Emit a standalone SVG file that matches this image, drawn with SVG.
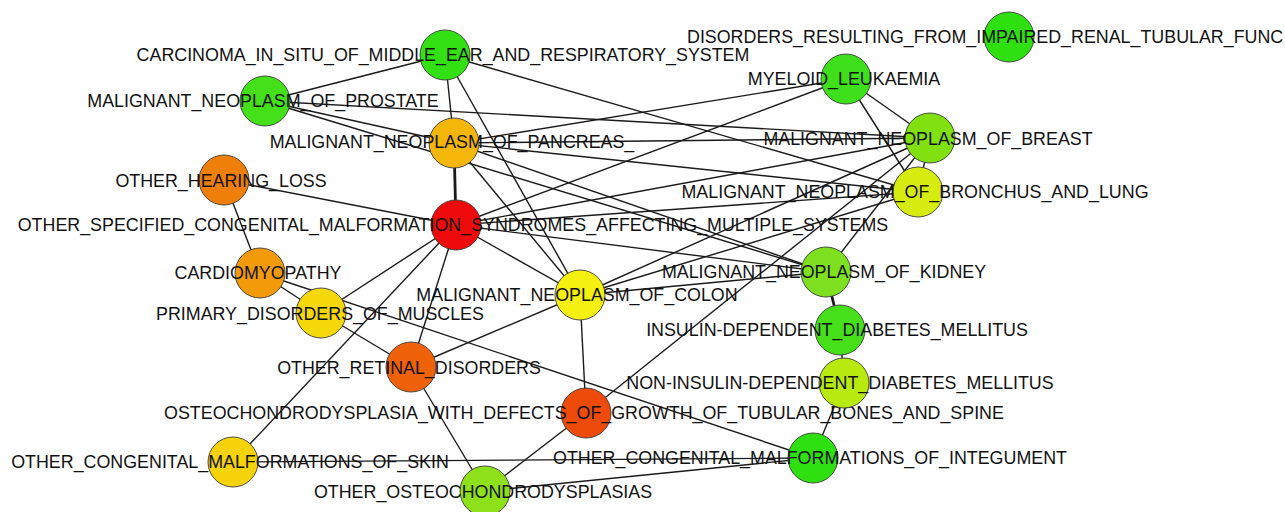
<svg xmlns="http://www.w3.org/2000/svg" width="1285" height="512" viewBox="0 0 1285 512">
<style>
.e{stroke:#1a1a1a;stroke-width:1.4;fill:none}
.e2{stroke:#1a1a1a;stroke-width:2.8;fill:none}
.n{stroke:#3a3a3a;stroke-width:0.9}
.t{font-family:"Liberation Sans",Arial,sans-serif;font-size:17.85px;fill:#111;text-anchor:middle}
</style>
<rect width="1285" height="512" fill="#ffffff"/>
<g id="edges">
<line class="e" x1="445" y1="55" x2="265" y2="101"/>
<line class="e" x1="445" y1="55" x2="454" y2="143"/>
<line class="e" x1="445" y1="55" x2="580" y2="295"/>
<line class="e" x1="445" y1="55" x2="918" y2="192"/>
<line class="e" x1="265" y1="101" x2="930" y2="138"/>
<line class="e" x1="265" y1="101" x2="454" y2="143"/>
<line class="e" x1="265" y1="101" x2="826" y2="272"/>
<line class="e2" x1="454" y1="143" x2="456" y2="225"/>
<line class="e" x1="454" y1="143" x2="846" y2="79"/>
<line class="e" x1="454" y1="143" x2="930" y2="138"/>
<line class="e" x1="454" y1="143" x2="580" y2="295"/>
<line class="e" x1="454" y1="143" x2="826" y2="272"/>
<line class="e" x1="454" y1="143" x2="918" y2="192"/>
<line class="e" x1="456" y1="225" x2="224" y2="180"/>
<line class="e" x1="456" y1="225" x2="580" y2="295"/>
<line class="e" x1="456" y1="225" x2="846" y2="79"/>
<line class="e" x1="456" y1="225" x2="930" y2="138"/>
<line class="e" x1="456" y1="225" x2="826" y2="272"/>
<line class="e" x1="456" y1="225" x2="918" y2="192"/>
<line class="e" x1="456" y1="225" x2="321" y2="313"/>
<line class="e" x1="456" y1="225" x2="233" y2="462"/>
<line class="e" x1="456" y1="225" x2="411" y2="367"/>
<line class="e" x1="224" y1="180" x2="260" y2="273"/>
<line class="e" x1="260" y1="273" x2="321" y2="313"/>
<line class="e" x1="260" y1="273" x2="813" y2="458"/>
<line class="e" x1="321" y1="313" x2="411" y2="367"/>
<line class="e" x1="411" y1="367" x2="580" y2="295"/>
<line class="e" x1="411" y1="367" x2="485" y2="491"/>
<line class="e" x1="580" y1="295" x2="586" y2="413"/>
<line class="e" x1="580" y1="295" x2="930" y2="138"/>
<line class="e" x1="580" y1="295" x2="826" y2="272"/>
<line class="e" x1="580" y1="295" x2="918" y2="192"/>
<line class="e" x1="586" y1="413" x2="930" y2="138"/>
<line class="e" x1="586" y1="413" x2="485" y2="491"/>
<line class="e" x1="485" y1="491" x2="813" y2="458"/>
<line class="e" x1="233" y1="462" x2="813" y2="458"/>
<line class="e" x1="813" y1="458" x2="844" y2="383"/>
<line class="e" x1="844" y1="383" x2="840" y2="330"/>
<line class="e2" x1="840" y1="330" x2="826" y2="272"/>
<line class="e" x1="826" y1="272" x2="930" y2="138"/>
<line class="e" x1="846" y1="79" x2="930" y2="138"/>
<line class="e" x1="846" y1="79" x2="918" y2="192"/>
<line class="e" x1="930" y1="138" x2="918" y2="192"/>
</g>
<g id="n_carcinoma"><circle class="n" cx="445" cy="55" r="25" fill="#33e014"/><text class="t" x="443" y="61">CARCINOMA_IN_SITU_OF_MIDDLE_EAR_AND_RESPIRATORY_SYSTEM</text></g>
<g id="n_prostate"><circle class="n" cx="265" cy="101" r="25" fill="#44e01a"/><text class="t" x="263" y="107">MALIGNANT_NEOPLASM_OF_PROSTATE</text></g>
<g id="n_pancreas"><circle class="n" cx="454" cy="143" r="25" fill="#f5b60a"/><text class="t" x="452" y="148">MALIGNANT_NEOPLASM_OF_PANCREAS_</text></g>
<g id="n_hearing"><circle class="n" cx="224" cy="180" r="25" fill="#f07f0a"/><text class="t" x="221" y="187">OTHER_HEARING_LOSS</text></g>
<g id="n_syndromes"><circle class="n" cx="456" cy="225" r="25" fill="#ee0a0a"/><text class="t" x="453" y="231">OTHER_SPECIFIED_CONGENITAL_MALFORMATION_SYNDROMES_AFFECTING_MULTIPLE_SYSTEMS</text></g>
<g id="n_cardiomyopathy"><circle class="n" cx="260" cy="273" r="25" fill="#f39a0a"/><text class="t" x="258" y="279">CARDIOMYOPATHY</text></g>
<g id="n_muscles"><circle class="n" cx="321" cy="313" r="25" fill="#f5d80a"/><text class="t" x="320" y="320">PRIMARY_DISORDERS_OF_MUSCLES</text></g>
<g id="n_retinal"><circle class="n" cx="411" cy="367" r="25" fill="#ef620a"/><text class="t" x="409" y="374">OTHER_RETINAL_DISORDERS</text></g>
<g id="n_osteo_defects"><circle class="n" cx="586" cy="413" r="25" fill="#ee4a0a"/><text class="t" x="584" y="419">OSTEOCHONDRODYSPLASIA_WITH_DEFECTS_OF_GROWTH_OF_TUBULAR_BONES_AND_SPINE</text></g>
<g id="n_skin"><circle class="n" cx="233" cy="462" r="25" fill="#f5d20a"/><text class="t" x="230" y="468">OTHER_CONGENITAL_MALFORMATIONS_OF_SKIN</text></g>
<g id="n_other_osteo"><circle class="n" cx="485" cy="491" r="25" fill="#8ee01a"/><text class="t" x="483" y="498">OTHER_OSTEOCHONDRODYSPLASIAS</text></g>
<g id="n_colon"><circle class="n" cx="580" cy="295" r="25" fill="#f6f010"/><text class="t" x="577" y="301">MALIGNANT_NEOPLASM_OF_COLON</text></g>
<g id="n_kidney"><circle class="n" cx="826" cy="272" r="25" fill="#7ee020"/><text class="t" x="824" y="278">MALIGNANT_NEOPLASM_OF_KIDNEY</text></g>
<g id="n_insulin"><circle class="n" cx="840" cy="330" r="25" fill="#45e01a"/><text class="t" x="837" y="336">INSULIN-DEPENDENT_DIABETES_MELLITUS</text></g>
<g id="n_noninsulin"><circle class="n" cx="844" cy="383" r="25" fill="#b8ea10"/><text class="t" x="840" y="389">NON-INSULIN-DEPENDENT_DIABETES_MELLITUS</text></g>
<g id="n_integument"><circle class="n" cx="813" cy="458" r="25" fill="#2ee010"/><text class="t" x="810" y="464">OTHER_CONGENITAL_MALFORMATIONS_OF_INTEGUMENT</text></g>
<g id="n_bronchus"><circle class="n" cx="918" cy="192" r="25" fill="#d6ec10"/><text class="t" x="915" y="198">MALIGNANT_NEOPLASM_OF_BRONCHUS_AND_LUNG</text></g>
<g id="n_breast"><circle class="n" cx="930" cy="138" r="25" fill="#80e010"/><text class="t" x="928" y="145">MALIGNANT_NEOPLASM_OF_BREAST</text></g>
<g id="n_myeloid"><circle class="n" cx="846" cy="79" r="25" fill="#3de01a"/><text class="t" x="844" y="85">MYELOID_LEUKAEMIA</text></g>
<g id="n_renal"><circle class="n" cx="1009" cy="37" r="25" fill="#2ee010"/><text class="t" x="687" y="43" style="text-anchor:start">DISORDERS_RESULTING_FROM_IMPAIRED_RENAL_TUBULAR_FUNC</text></g>
</svg>
